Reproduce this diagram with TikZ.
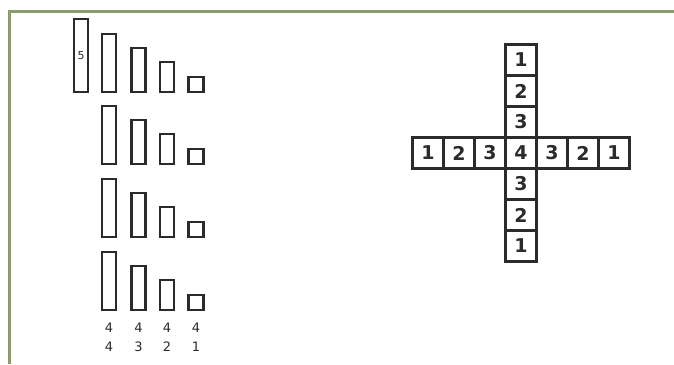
\documentclass[tikz,border=0pt]{standalone}
\usepackage{fontspec}
\setmainfont{DejaVu Sans}
\definecolor{framegreen}{HTML}{8C9A70}
\definecolor{ink}{HTML}{2B2B2B}
\begin{document}
\begin{tikzpicture}[x=1pt,y=-1pt,
  bar/.style={draw=ink,line width=2.2pt,rectangle,inner sep=0pt,minimum width=14pt,anchor=south,font=\fontsize{11}{11}\selectfont,text=ink},
  cell/.style={draw=ink,line width=2.4pt,rectangle,inner sep=0pt,minimum width=31pt,minimum height=31pt,font=\bfseries\fontsize{19}{19}\selectfont,text=ink},
  lbl/.style={inner sep=0pt,font=\fontsize{13}{13}\selectfont,text=ink}]
\useasboundingbox (0,0) rectangle (674,364);
\fill[white] (0,0) rectangle (674,364);
\draw[framegreen,line width=3pt] (9,364) -- (9,11) -- (674,11);
% bar rows
\node[bar,minimum height=73pt] (b11) at (81,93) {5};
\foreach \r/\yb in {1/93,2/165,3/238,4/311}{
  \node[bar,minimum height=58pt] (b\r2) at (109,\yb) {};
  \node[bar,minimum height=44pt] (b\r3) at (138.5,\yb) {};
  \node[bar,minimum height=30pt] (b\r4) at (167,\yb) {};
  \node[bar,minimum height=15pt,minimum width=15pt] (b\r5) at (196,\yb) {};
}
\node[lbl] (t1) at (109,328) {4};
\node[lbl] (t2) at (138.5,328) {4};
\node[lbl] (t3) at (167,328) {4};
\node[lbl] (t4) at (196,328) {4};
\node[lbl] (s1) at (109,347) {4};
\node[lbl] (s2) at (138.5,347) {3};
\node[lbl] (s3) at (167,347) {2};
\node[lbl] (s4) at (196,347) {1};
% cross
\def\cx{521}\def\cy{153}
\foreach \i/\d in {-3/1,-2/2,-1/3,1/3,2/2,3/1}{
  \node[cell] (h\i) at ({\cx+31*\i},\cy) {\d};
  \node[cell] (v\i) at (\cx,{\cy+31*\i}) {\d};
}
\node[cell] (c0) at (\cx,\cy) {4};
\end{tikzpicture}
\end{document}
